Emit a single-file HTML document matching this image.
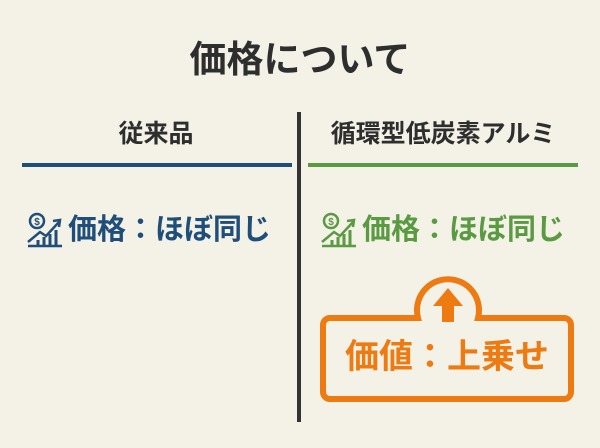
<!DOCTYPE html>
<html><head><meta charset="utf-8"><style>
body{margin:0;width:600px;height:448px;background:#f4f1e6;position:relative;overflow:hidden;font-family:"Liberation Sans","Noto Sans CJK JP",sans-serif;font-weight:bold}
.t{position:absolute;white-space:nowrap;line-height:1}
</style></head><body>
<div class="t" style="left:0;width:600px;text-align:center;top:41px;font-size:37px;color:#2e2e2e">価格について</div>
<div class="t" style="left:22px;width:268px;text-align:center;top:122px;font-size:25px;color:#2e2e2e">従来品</div>
<div class="t" style="left:308px;width:270px;text-align:center;top:122px;font-size:25px;color:#2e2e2e">循環型低炭素アルミ</div>
<div style="position:absolute;left:22px;top:163px;width:270px;height:4px;background:#1f4e7a"></div>
<div style="position:absolute;left:308px;top:163px;width:270px;height:4px;background:#5a9a42"></div>
<div style="position:absolute;left:297px;top:112px;width:4px;height:310px;background:#333"></div>
<svg style="position:absolute;left:26px;top:212px" width="38" height="36" viewBox="0 0 38 36" fill="none" stroke="#1f4e7a" stroke-width="2.5">
<circle cx="11" cy="9" r="7"/><text x="11" y="13" font-size="10" text-anchor="middle" fill="#1f4e7a" stroke="none" font-family="Liberation Sans">$</text>
<path d="M2 30 L14 20 L20 24 L33 10"/><path d="M27 9 L34 8 L33 15"/>
<path d="M12 34V28M18 34V25M24 34V22M30 34V18" stroke-width="3"/><path d="M2 34H36"/></svg>
<div class="t" style="left:68px;top:216px;font-size:29px;color:#1f4e7a">価格：ほぼ同じ</div>
<svg style="position:absolute;left:320px;top:212px" width="38" height="36" viewBox="0 0 38 36" fill="none" stroke="#5a9a42" stroke-width="2.5">
<circle cx="11" cy="9" r="7"/><text x="11" y="13" font-size="10" text-anchor="middle" fill="#5a9a42" stroke="none" font-family="Liberation Sans">$</text>
<path d="M2 30 L14 20 L20 24 L33 10"/><path d="M27 9 L34 8 L33 15"/>
<path d="M12 34V28M18 34V25M24 34V22M30 34V18" stroke-width="3"/><path d="M2 34H36"/></svg>
<div class="t" style="left:362px;top:216px;font-size:29px;color:#5a9a42">価格：ほぼ同じ</div>
<svg style="position:absolute;left:0;top:0" width="600" height="448">
<path d="M332 318 H418 A31 31 0 1 1 478 318 H564 A7 7 0 0 1 571 325 V392 A7 7 0 0 1 564 399 H330 A7 7 0 0 1 323 392 V325 A7 7 0 0 1 330 318 Z" fill="#f4f1e6" stroke="#ee7a12" stroke-width="6"/>
<path d="M448 288 L463 306 H454 V322 H442 V306 H433 Z" fill="#ee7a12"/>
</svg>
<div class="t" style="left:323px;width:248px;text-align:center;top:340px;font-size:34px;color:#ee7a12">価値：上乗せ</div>
</body></html>
